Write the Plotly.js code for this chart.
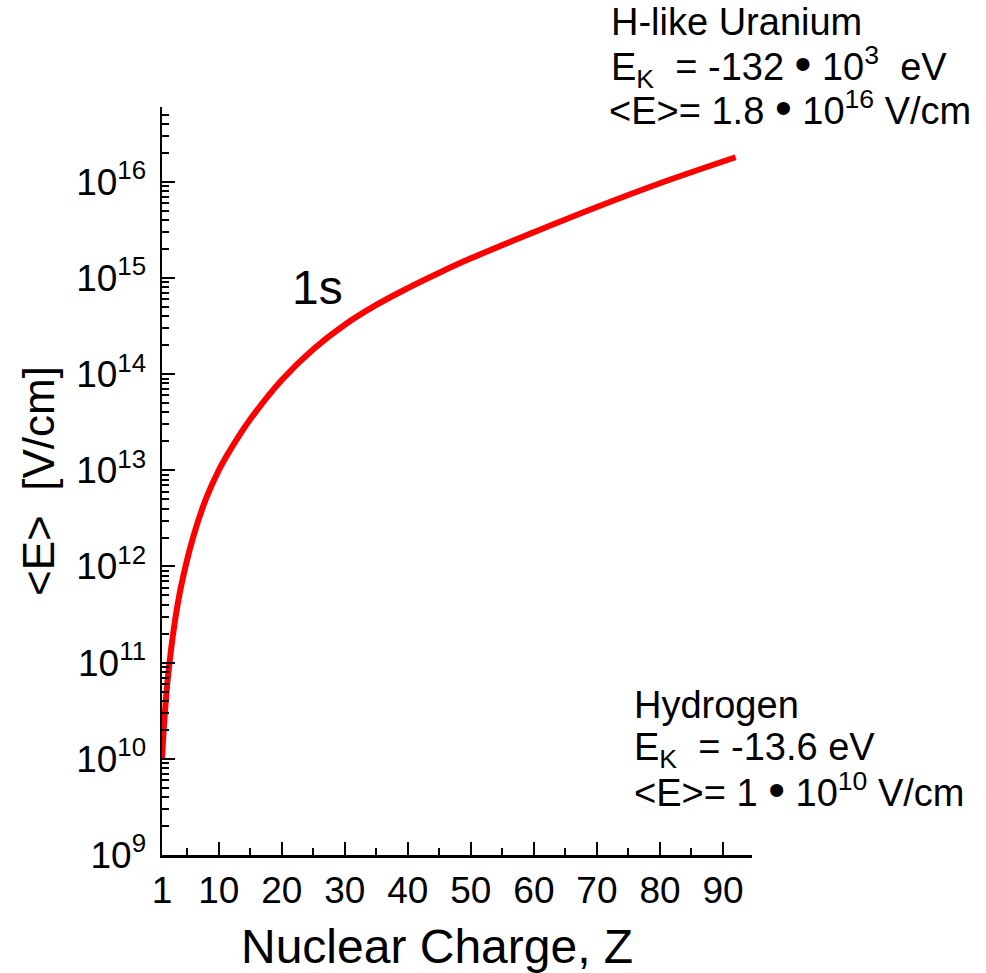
<!DOCTYPE html>
<html>
<head>
<meta charset="utf-8">
<script src="https://cdn.plot.ly/plotly-3.0.1.min.js"></script>
<style>html,body{margin:0;padding:0;background:#fff;}#chart{width:986px;height:973px;}</style>
</head>
<body>
<div id="chart"></div>
<script>
// Nuclear charge Z
const Z = [1, 1.25, 1.5, 2, 3, 4, 6, 8, 10, 12, 15, 20, 25, 30, 35, 40, 45, 50, 60, 70, 80, 92];
// Mean electric field <E> of the 1s state [V/cm]
const E = [1.0e10, 1.93e10, 3.3e10, 7.7e10, 2.56e11, 6.1e11, 2.08e12, 5.1e12, 1.0e13, 1.7e13, 3.39e13,
           8.7e13, 1.82e14, 3.27e14, 5.25e14, 7.85e14, 1.135e15, 1.6e15, 2.99e15, 5.47e15, 9.66e15, 1.8e16];

const xTickVals = [1, 10, 20, 30, 40, 50, 60, 70, 80, 90];
const xTickText = ['1', '10', '20', '30', '40', '50', '60', '70', '80', '90'];
const xMinorVals = [5, 15, 25, 35, 45, 55, 65, 75, 85];
const yTickVals = [1e9, 1e10, 1e11, 1e12, 1e13, 1e14, 1e15, 1e16];
const yTickText = ['10<sup>9</sup>', '10<sup>10</sup>', '10<sup>11</sup>', '10<sup>12</sup>',
                   '10<sup>13</sup>', '10<sup>14</sup>', '10<sup>15</sup>', '10<sup>16</sup>'];

const FONT = 'Liberation Sans, Arial, Helvetica, sans-serif';
const DOT = '<span style="font-size:48px">\u2022</span>';

const trace = {
  x: Z, y: E, type: 'scatter', mode: 'lines',
  line: {color: '#ff0000', width: 6, shape: 'spline', smoothing: 1},
  hoverinfo: 'skip', cliponaxis: false
};

const axisCommon = {
  showline: true, linecolor: '#000', linewidth: 2.5,
  ticks: 'inside', ticklen: 13, tickwidth: 2, tickcolor: '#000',
  showgrid: false, zeroline: false, mirror: false,
  tickfont: {family: FONT, size: 37, color: '#000'}
};

const layout = {
  width: 986, height: 973,
  margin: {l: 162, r: 234, t: 107, b: 118},
  paper_bgcolor: '#fff', plot_bgcolor: '#fff',
  showlegend: false,
  font: {family: FONT, color: '#000'},
  xaxis: Object.assign({}, axisCommon, {
    range: [1, 94.6], tickmode: 'array', tickvals: xTickVals, ticktext: xTickText,
    minor: {tickmode: 'array', tickvals: xMinorVals, ticks: 'inside', ticklen: 7, tickwidth: 2, tickcolor: '#000'},
    ticklabelstandoff: 1
  }),
  yaxis: Object.assign({}, axisCommon, {
    type: 'log', range: [9, 16.778], tickmode: 'array', tickvals: yTickVals, ticktext: yTickText,
    minor: {dtick: 'D1', ticks: 'inside', ticklen: 7, tickwidth: 2, tickcolor: '#000'},
    ticklabelstandoff: 6,
    title: {text: '&lt;E&gt;\u00a0\u00a0[V/cm]', font: {family: FONT, size: 44, color: '#000'}, standoff: 8}
  }),
  annotations: [
    {xref: 'paper', yref: 'paper', x: 0.466, y: -0.1217, xanchor: 'center', yanchor: 'middle',
     text: 'Nuclear Charge, Z', showarrow: false, font: {family: FONT, size: 48}},
    {xref: 'x', yref: 'y', x: 25.7, y: 14.9, xanchor: 'center', yanchor: 'middle',
     text: '1s', showarrow: false, font: {family: FONT, size: 48}},
    {xref: 'paper', yref: 'paper', x: 0.758, y: 1.1143, xanchor: 'left', yanchor: 'middle',
     text: 'H-like Uranium', showarrow: false, font: {family: FONT, size: 38}},
    {xref: 'paper', yref: 'paper', x: 0.758, y: 1.0561, xanchor: 'left', yanchor: 'middle',
     text: 'E<sub>K</sub>\u00a0 = -132 ' + DOT + ' 10<sup>3</sup>\u00a0 eV', showarrow: false, font: {family: FONT, size: 38}},
    {xref: 'paper', yref: 'paper', x: 0.755, y: 0.9987, xanchor: 'left', yanchor: 'middle',
     text: '&lt;E&gt;= 1.8 ' + DOT + ' 10<sup>16</sup> V/cm', showarrow: false, font: {family: FONT, size: 38}},
    {xref: 'paper', yref: 'paper', x: 0.797, y: 0.2012, xanchor: 'left', yanchor: 'middle',
     text: 'Hydrogen', showarrow: false, font: {family: FONT, size: 38}},
    {xref: 'paper', yref: 'paper', x: 0.797, y: 0.1400, xanchor: 'left', yanchor: 'middle',
     text: 'E<sub>K</sub>\u00a0 = -13.6 eV', showarrow: false, font: {family: FONT, size: 38}},
    {xref: 'paper', yref: 'paper', x: 0.797, y: 0.0870, xanchor: 'left', yanchor: 'middle',
     text: '&lt;E&gt;= 1 ' + DOT + ' 10<sup>10</sup> V/cm', showarrow: false, font: {family: FONT, size: 38}}
  ]
};

Plotly.newPlot('chart', [trace], layout, {displayModeBar: false, staticPlot: true});
</script>
</body>
</html>
